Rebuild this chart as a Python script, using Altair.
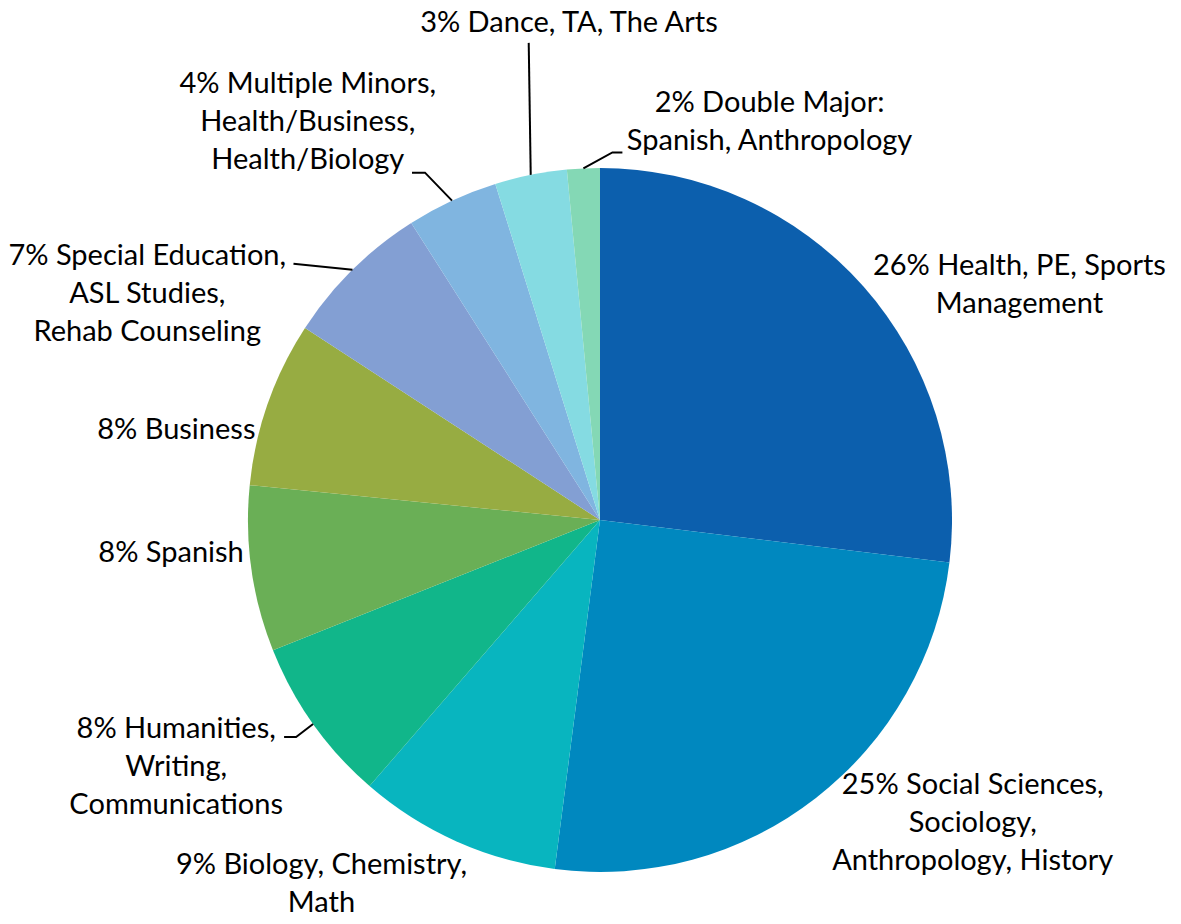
import math
import altair as alt
import pandas as pd

# ---- data ----
labels = [
    "26% Health, PE, Sports\nManagement",
    "25% Social Sciences,\nSociology,\nAnthropology, History",
    "9% Biology, Chemistry,\nMath",
    "8% Humanities,\nWriting,\nCommunications",
    "8% Spanish",
    "8% Business",
    "7% Special Education,\nASL Studies,\nRehab Counseling",
    "4% Multiple Minors,\nHealth/Business,\nHealth/Biology",
    "3% Dance, TA, The Arts",
    "2% Double Major:\nSpanish, Anthropology",
]
values = [26.9, 25.1, 9.3, 7.6, 7.6, 7.6, 6.8, 4.2, 3.3, 1.5]
colors = ["#0C5FAD", "#0088BF", "#08B5BF", "#11B68A", "#6AAF56",
          "#97AC42", "#839FD3", "#80B5E0", "#85DBE2", "#84D8B5"]

# ---- layout (styling, not data) ----
W, H = 1165, 908
CX, CY, R = 592, 512, 352
LABEL_R = R + 60
LINE_H = 38
label_nudge = [(111, 38), (120, -22), (-110, -12), (-88, 8), (-21, -24),
               (-35, 47), (-163, 67), (-119, -24), (50, -93), (189, 14)]
leader_paths = {
    3: [(-17, 13), (-29, 13)],
    6: [(-59, -6)],
    7: [(-27, -28), (-40, -28)],
    8: [(-2, -132)],
    9: [(29, -16), (39, -16)],
}

total = sum(values)
cum = 0.0
rows, text_rows, leader_rows = [], [], []
for i, (lab, v) in enumerate(zip(labels, values)):
    mid = (cum + v / 2) / total * 2 * math.pi
    cum += v
    rows.append({"idx": i, "label": lab, "value": v})
    n_lines = lab.count("\n") + 1
    ax = CX + LABEL_R * math.sin(mid) + label_nudge[i][0]
    ay = CY - LABEL_R * math.cos(mid) + label_nudge[i][1] - (n_lines - 1) * LINE_H / 2
    text_rows.append({"idx": i, "label": lab, "px": ax, "py": ay})
    if i in leader_paths:
        sx = CX + R * math.sin(mid)
        sy = CY - R * math.cos(mid)
        pts = [(0, 0)] + leader_paths[i]
        for k, (ox, oy) in enumerate(pts):
            leader_rows.append({"idx": i, "k": k, "px": sx + ox, "py": sy + oy})

df = pd.DataFrame(rows)
tdf = pd.DataFrame(text_rows)
ldf = pd.DataFrame(leader_rows)

pie = alt.Chart(df).mark_arc(outerRadius=R).encode(
    theta=alt.Theta("value:Q", stack=True),
    order=alt.Order("idx:Q"),
    color=alt.Color("label:N", scale=alt.Scale(domain=labels, range=colors), legend=None),
    x=alt.value(CX),
    y=alt.value(CY),
)

text = alt.Chart(tdf).mark_text(
    font="Lato", fontSize=29, lineBreak="\n", lineHeight=LINE_H,
    align="center", baseline="middle", color="#000000"
).encode(
    x=alt.X("px:Q", scale=None),
    y=alt.Y("py:Q", scale=None),
    text="label:N",
)

leaders = alt.Chart(ldf).mark_line(color="#000000", strokeWidth=2).encode(
    x=alt.X("px:Q", scale=None),
    y=alt.Y("py:Q", scale=None),
    detail="idx:N",
    order="k:Q",
)

chart = alt.layer(pie, leaders, text).properties(
    width=W, height=H, padding=0, autosize=alt.AutoSizeParams(type="none")
).configure_view(stroke=None)

chart.save("out.html", embed_options={"renderer": "svg", "actions": False})
